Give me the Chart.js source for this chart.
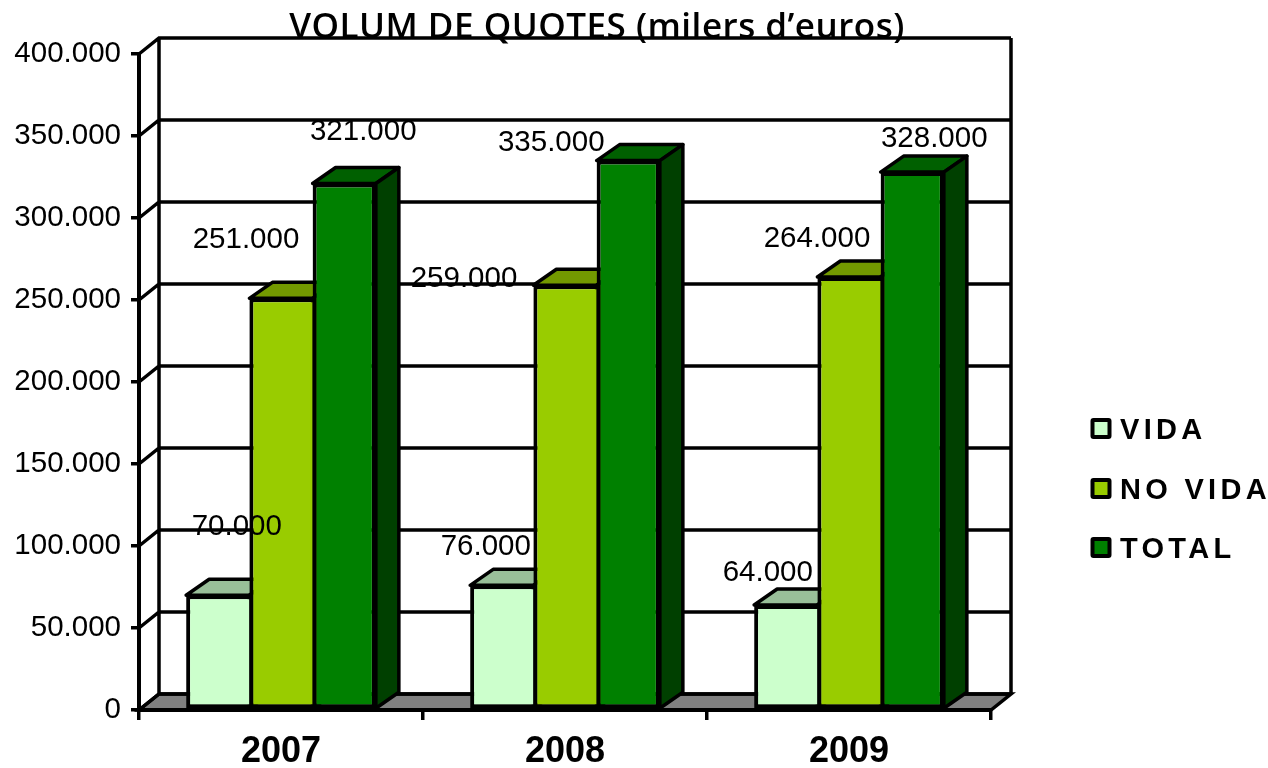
<!DOCTYPE html>
<html>
<head>
<meta charset="utf-8">
<title>Volum de quotes</title>
<script src="https://cdn.jsdelivr.net/npm/chart.js@4/dist/chart.umd.min.js"></script>
<style>
  html, body { margin: 0; background: #fff; overflow: hidden; }
  canvas { display: block; }
</style>
</head>
<body>
<canvas id="chart" width="1268" height="768"></canvas>
<script>
// ── DATA ─────────────────────────────────────────────
const chartTitle = "VOLUM DE QUOTES (milers d\u2019euros)";
const years = ['2007', '2008', '2009'];
const vida = [70000, 76000, 64000];
const noVida = [251000, 259000, 264000];
const total = [321000, 335000, 328000];
const seriesNames = ['VIDA', 'NO VIDA', 'TOTAL'];
const yTicks = [0, 50000, 100000, 150000, 200000, 250000, 300000, 350000, 400000];

// front, top and side colour of each series
const frontColors = ['#ccffcc', '#99cc00', '#008000'];
const topColors = ['#99bf99', '#739900', '#006000'];
const sideColors = ['#668066', '#4d6600', '#004000'];

// hand placed value labels, [dx, dy] from the top centre of each bar
const labelNudge = [
  [[19, -68], [-16, -39], [-18, -32]],
  [[-35, -59], [-101, -6], [-32, -38]],
  [[19, -52], [-77, -18], [22, -33]],
];

const wallDepth = { x: 20, y: -16 };
const barDepth = { x: 23, y: -16 };
const legendRows = [430, 490, 549];

const fmt = v => String(v).replace(/\B(?=(\d{3})+$)/g, '.');

function poly(ctx, pts, fill) {
  ctx.beginPath();
  pts.forEach((p, i) => i ? ctx.lineTo(p[0], p[1]) : ctx.moveTo(p[0], p[1]));
  ctx.closePath();
  ctx.fillStyle = fill;
  ctx.fill();
  ctx.stroke();
}

// ── 3D WALLS, TITLE, LEGEND ──────────────────────────
const walls = {
  id: 'walls',
  beforeDraw(chart) {
    const { ctx, chartArea: a, scales: { y } } = chart;
    const dx = wallDepth.x, dy = wallDepth.y;
    ctx.save();

    ctx.fillStyle = '#000';
    ctx.font = '600 35px "Open Sans"';
    ctx.textAlign = 'center';
    ctx.textBaseline = 'alphabetic';
    ctx.letterSpacing = '0.5px';
    ctx.fillText(chartTitle, 597, 38);
    ctx.letterSpacing = '0px';

    ctx.strokeStyle = '#000';
    ctx.lineWidth = 3.5;
    ctx.lineJoin = 'miter';
    poly(ctx, [[a.left, a.bottom], [a.left + dx, a.bottom + dy], [a.right + dx, a.bottom + dy], [a.right, a.bottom]], '#808080');

    ctx.beginPath();
    ctx.moveTo(a.left + dx, a.bottom + dy);
    ctx.lineTo(a.left + dx, a.top + dy);
    ctx.moveTo(a.right + dx, a.bottom + dy);
    ctx.lineTo(a.right + dx, a.top + dy);
    yTicks.forEach(v => {
      const py = y.getPixelForValue(v);
      ctx.moveTo(a.left, py);
      ctx.lineTo(a.left + dx, py + dy);
      ctx.lineTo(a.right + dx, py + dy);
    });
    ctx.stroke();

    // legend
    ctx.font = 'bold 29px "Liberation Sans"';
    ctx.textAlign = 'left';
    ctx.textBaseline = 'middle';
    ctx.letterSpacing = '4.3px';
    seriesNames.forEach((name, i) => {
      const ly = legendRows[i];
      ctx.fillStyle = frontColors[i];
      ctx.lineWidth = 4;
      ctx.beginPath();
      ctx.roundRect(1092.5, ly - 10, 17, 17, 1);
      ctx.fill();
      ctx.stroke();
      ctx.fillStyle = '#000';
      ctx.fillText(name, 1120, ly + 1);
    });
    ctx.restore();
  },
  beforeDatasetsDraw(chart) {
    const { ctx } = chart;
    ctx.save();
    ctx.strokeStyle = '#000';
    ctx.lineWidth = 3.5;
    ctx.lineJoin = 'round';
    chart.data.datasets.forEach((ds, i) => {
      chart.getDatasetMeta(i).data.forEach(bar => {
        const x0 = bar.x - bar.width / 2, x1 = bar.x + bar.width / 2;
        const dx = barDepth.x, dy = barDepth.y;
        poly(ctx, [[x0, bar.y], [x0 + dx, bar.y + dy], [x1 + dx, bar.y + dy], [x1, bar.y]], topColors[i]);
        poly(ctx, [[x1, bar.y], [x1 + dx, bar.y + dy], [x1 + dx, bar.base + dy], [x1, bar.base]], sideColors[i]);
      });
    });
    ctx.restore();
  },
  afterDatasetsDraw(chart) {
    const { ctx } = chart;
    ctx.save();
    ctx.fillStyle = '#000';
    ctx.font = '29.5px "Liberation Sans"';
    ctx.textAlign = 'center';
    ctx.textBaseline = 'middle';
    chart.data.datasets.forEach((ds, i) => {
      chart.getDatasetMeta(i).data.forEach((bar, j) => {
        const n = labelNudge[i][j];
        ctx.fillText(fmt(ds.data[j]), bar.x + n[0], bar.y + n[1]);
      });
    });
    ctx.restore();
  }
};

// ── CHART ────────────────────────────────────────────
const seriesValues = [vida, noVida, total];

new Chart(document.getElementById('chart'), {
  type: 'bar',
  plugins: [walls],
  data: {
    labels: years,
    datasets: seriesValues.map((values, i) => ({
      label: seriesNames[i],
      data: values,
      backgroundColor: frontColors[i],
      borderColor: '#000',
      borderWidth: { top: 4, left: 4, bottom: 4, right: i === 2 ? 4 : 0 },
      borderSkipped: false,
      inflateAmount: 0,
      categoryPercentage: 0.668,
      barPercentage: 1,
    }))
  },
  options: {
    responsive: false,
    animation: false,
    layout: { padding: { top: 54, right: 277, bottom: 0, left: 0 } },
    plugins: {
      legend: { display: false },
      title: { display: false },
      tooltip: { enabled: false },
    },
    scales: {
      x: {
        afterFit: s => { s.height = 58; },
        grid: { drawOnChartArea: false, color: '#000', lineWidth: 3.5, tickLength: 10 },
        border: { color: '#000', width: 4 },
        ticks: {
          color: '#000', padding: 10,
          font: { family: 'Liberation Sans', size: 36, weight: 'bold' },
          maxRotation: 0,
        },
      },
      y: {
        min: 0, max: 400000,
        afterFit: s => { s.width = 139; },
        afterBuildTicks: s => { s.ticks = yTicks.map(value => ({ value })); },
        grid: { drawOnChartArea: false, color: '#000', lineWidth: 3.5, tickLength: 8 },
        border: { color: '#000', width: 4 },
        ticks: {
          color: '#000', padding: 10,
          font: { family: 'Liberation Sans', size: 29.5 },
          callback: v => fmt(v),
        },
      },
    },
  },
});
</script>
</body>
</html>
